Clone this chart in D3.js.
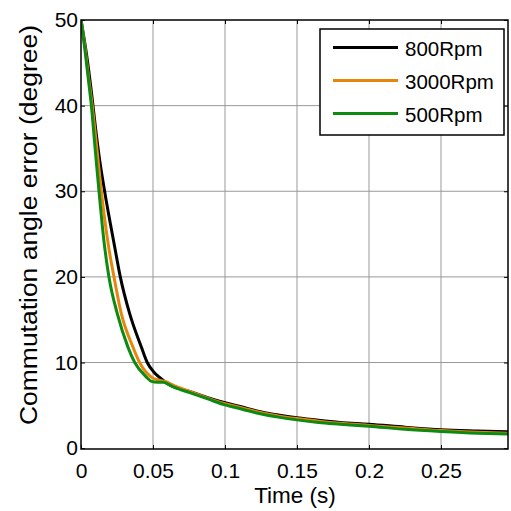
<!DOCTYPE html>
<html><head><meta charset="utf-8">
<script src="https://cdn.jsdelivr.net/npm/d3@7"></script>
<style>body{margin:0;background:#fff}svg{display:block}text{font-family:"Liberation Sans",Arial,sans-serif}</style>
</head><body>
<script>
const xTicks=[0,0.05,0.1,0.15,0.2,0.25];
const xTickLabels=["0","0.05","0.1","0.15","0.2","0.25"];
const yTicks=[0,10,20,30,40,50];
const seriesNames=["800Rpm","3000Rpm","500Rpm"];
const seriesColors=["#000000","#e8860c","#0c8a12"];
const t800=[0,0.004,0.0075,0.010,0.013,0.0164,0.0234,0.0273,0.0338,0.0419,0.046,0.0505,0.0546,0.059,0.064,0.076,0.088,0.100,0.112,0.122,0.136,0.150,0.165,0.180,0.200,0.225,0.250,0.275,0.2966];
const v800=[50,45.8,41.2,37.5,33.6,30,23.5,20,15.7,11.8,10,8.9,8.25,7.65,7.2,6.6,5.9,5.3,4.8,4.35,3.9,3.55,3.25,3.0,2.8,2.45,2.15,2.0,1.9];
const t3000=[0,0.003,0.0055,0.0078,0.011,0.0141,0.0192,0.0229,0.028,0.0361,0.0407,0.0488,0.055,0.059,0.064,0.076,0.088,0.100,0.112,0.122,0.136,0.150,0.165,0.180,0.200,0.225,0.250,0.275,0.2966];
const v3000=[50,46.5,43,40,35,30,23.5,20,15.7,11.8,10,8.3,7.9,7.75,7.35,6.6,5.85,5.2,4.7,4.25,3.8,3.45,3.15,2.9,2.65,2.35,2.05,1.85,1.75];
const t500=[0,0.0026,0.0053,0.0072,0.0098,0.0125,0.0164,0.0194,0.0252,0.0326,0.0373,0.0454,0.049,0.053,0.057,0.064,0.076,0.088,0.100,0.112,0.122,0.136,0.150,0.165,0.180,0.200,0.225,0.250,0.275,0.2966];
const v500=[50,46.7,42.8,40,35,30,23.5,20,15.7,11.8,10,8.3,7.8,7.7,7.7,7.15,6.45,5.75,5.05,4.55,4.1,3.65,3.3,3.0,2.8,2.55,2.2,1.95,1.75,1.65];

const W=511,H=511,L=81,R=508,T=20,B=449;
const svg=d3.select("body").append("svg").attr("width",W).attr("height",H);
const x=d3.scaleLinear().domain([0,(R-L)/1440]).range([L,R]);
const y=d3.scaleLinear().domain([-0.1,50]).range([B,T]);

// grid
const g=svg.append("g");
g.selectAll(".gx").data(xTicks.slice(1)).join("line").attr("x1",d=>x(d)).attr("x2",d=>x(d)).attr("y1",T).attr("y2",B).attr("stroke","#999").attr("stroke-width",1);
g.selectAll(".gy").data(yTicks.slice(1,-1)).join("line").attr("x1",L).attr("x2",R).attr("y1",d=>y(d)).attr("y2",d=>y(d)).attr("stroke","#999").attr("stroke-width",1);

// axes
const FS=21;
const axB=d3.axisBottom(x).tickValues(xTicks).tickFormat((d,i)=>xTickLabels[i]).tickSizeInner(-4).tickSizeOuter(0).tickPadding(14);
const axT=d3.axisTop(x).tickValues(xTicks).tickFormat("").tickSizeInner(-4).tickSizeOuter(0);
const axL=d3.axisLeft(y).tickValues(yTicks).tickSizeInner(-4).tickSizeOuter(0).tickPadding(3);
const axR=d3.axisRight(y).tickValues(yTicks).tickFormat("").tickSizeInner(-4).tickSizeOuter(0);
function style(sel){sel.select(".domain").remove();sel.selectAll("line").attr("stroke","#000");sel.selectAll("text").attr("font-size",FS).attr("fill","#000").attr("font-family","Liberation Sans, Arial, sans-serif");}
svg.append("g").attr("transform",`translate(0,${B})`).call(axB).call(style);
svg.append("g").attr("transform",`translate(0,${T})`).call(axT).call(style);
svg.append("g").attr("transform",`translate(${L},0)`).call(axL).call(style);
svg.append("g").attr("transform",`translate(${R},0)`).call(axR).call(style);

// lines
const ts=[t800,t3000,t500], vs=[v800,v3000,v500];
const line=d3.line().x(d=>x(d[0])).y(d=>y(d[1])).curve(d3.curveMonotoneX);
svg.append("clipPath").attr("id","c").append("rect").attr("x",L).attr("y",T-2).attr("width",R-L).attr("height",B-T+2);
[0,1,2].forEach(i=>{
  svg.append("path").datum(ts[i].map((t,j)=>[t,vs[i][j]])).attr("d",line).attr("fill","none").attr("stroke",seriesColors[i]).attr("stroke-width",3).attr("clip-path","url(#c)");
});

// box
svg.append("rect").attr("x",L).attr("y",T).attr("width",R-L).attr("height",B-T).attr("fill","none").attr("stroke","#000").attr("stroke-width",1.5);

// legend
const lg=svg.append("g");
lg.append("rect").attr("x",320).attr("y",29).attr("width",184).attr("height",106).attr("fill","#fff").attr("stroke","#000").attr("stroke-width",1.5);
seriesNames.forEach((n,i)=>{
  const yy=47.5+i*33;
  lg.append("line").attr("x1",333).attr("x2",398).attr("y1",yy).attr("y2",yy).attr("stroke",seriesColors[i]).attr("stroke-width",3);
  lg.append("text").attr("x",405).attr("y",yy).attr("dy","0.42em").attr("font-size",20.5).text(n);
});

// labels
svg.append("text").attr("x",295).attr("y",503).attr("text-anchor","middle").attr("font-size",22.5).text("Time (s)");
svg.append("text").attr("transform",`translate(37,225) rotate(-90)`).attr("text-anchor","middle").attr("font-size",23.5)
  .attr("textLength",400).attr("lengthAdjust","spacingAndGlyphs").text("Commutation angle error (degree)");
</script>
</body></html>
